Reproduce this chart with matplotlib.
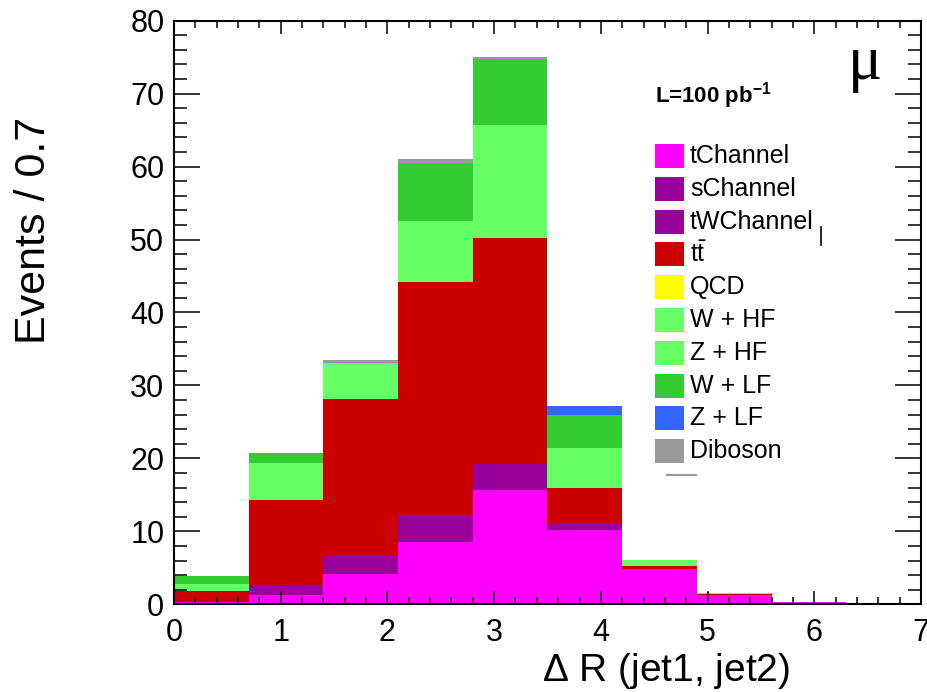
import numpy as np
import matplotlib
matplotlib.use("Agg")
import matplotlib.pyplot as plt
from matplotlib.patches import Rectangle
from matplotlib.lines import Line2D
from matplotlib.ticker import MultipleLocator

plt.rcParams['font.family'] = ['Liberation Sans', 'DejaVu Sans']
plt.rcParams['mathtext.fontset'] = 'custom'
plt.rcParams['mathtext.rm'] = 'Liberation Sans'
plt.rcParams['mathtext.it'] = 'Liberation Sans:italic'
plt.rcParams['mathtext.bf'] = 'Liberation Sans:bold'

"""INPUT DATA"""
bin_edges = np.round(np.arange(0, 7.01, 0.7), 2)  # delta R bins, width 0.7

# events per bin, stacked from bottom to top
t_channel  = [0.3, 1.3, 4.1, 8.6, 15.7, 10.2, 4.8, 1.3, 0.35, 0.2]
s_channel  = [0.05, 0.5, 1.0, 1.4, 1.4, 0.3, 0.0, 0.0, 0.0, 0.0]
tw_channel = [0.05, 0.7, 1.5, 2.1, 2.2, 0.5, 0.05, 0.0, 0.0, 0.0]
ttbar      = [1.4, 11.8, 21.5, 32.1, 30.9, 5.0, 0.45, 0.15, 0.0, 0.0]
qcd        = [0.0, 0.0, 0.0, 0.0, 0.0, 0.0, 0.0, 0.0, 0.0, 0.0]
w_hf       = [0.8, 4.3, 4.2, 7.0, 13.0, 4.5, 0.7, 0.1, 0.0, 0.0]
z_hf       = [0.2, 0.8, 0.8, 1.4, 2.5, 0.9, 0.1, 0.05, 0.0, 0.0]
w_lf       = [1.1, 1.3, 0.0, 7.9, 9.1, 4.5, 0.0, 0.0, 0.0, 0.0]
z_lf       = [0.0, 0.0, 0.0, 0.0, 0.0, 1.3, 0.0, 0.0, 0.0, 0.0]
diboson    = [0.0, 0.05, 0.4, 0.5, 0.2, 0.0, 0.0, 0.0, 0.0, 0.0]

labels = ['tChannel', 'sChannel', 'tWChannel', r'$\mathrm{t\bar{t}}$', 'QCD',
          'W + HF', 'Z + HF', 'W + LF', 'Z + LF', 'Diboson']
series = [t_channel, s_channel, tw_channel, ttbar, qcd,
          w_hf, z_hf, w_lf, z_lf, diboson]
colors = ['#ff00ff', '#990099', '#990099', '#cc0000', '#ffff00',
          '#66ff66', '#66ff66', '#33cc33', '#3366ff', '#999999']

W, H = 928, 692
fig = plt.figure(figsize=(W / 100, H / 100), dpi=100, facecolor='w')
ax = fig.add_axes([174 / W, 1 - 604.3 / H, 747 / W, 583.6 / H])

# stacked histogram
bottom = np.zeros(len(bin_edges) - 1)
for vals, c in zip(series, colors):
    vals = np.array(vals)
    ax.bar(bin_edges[:-1], vals, width=0.7, bottom=bottom, align='edge',
           color=c, linewidth=0)
    bottom += vals

ax.set_xlim(0, 7)
ax.set_ylim(0, 80)
ax.xaxis.set_major_locator(MultipleLocator(1))
ax.xaxis.set_minor_locator(MultipleLocator(0.2))
ax.yaxis.set_major_locator(MultipleLocator(10))
ax.yaxis.set_minor_locator(MultipleLocator(2))
ax.tick_params(axis='both', which='both', direction='in', top=True, right=True,
               width=1.1, labelsize=22, colors='k')
ax.tick_params(axis='x', which='major', length=9.5, pad=10)
ax.tick_params(axis='x', which='minor', length=4.8)
ax.tick_params(axis='y', which='major', length=18.7, pad=7)
ax.tick_params(axis='y', which='minor', length=9.4)
for spine in ax.spines.values():
    spine.set_linewidth(1.5)

# axis titles (ROOT style: aligned to the end of the axis)
fig.text(790 / W, 1 - 671 / H, r'$\Delta$ R (jet1, jet2)', ha='right',
         va='center', fontsize=28)
fig.text(34 / W, 1 - 117 / H, 'Events / 0.7', rotation=90, ha='center',
         va='top', fontsize=31)

# labels inside the frame
fig.text(655 / W, 1 - 96 / H, r'L=100 pb$^{\mathbf{-1}}$', fontsize=16,
         fontweight='bold', ha='left', va='center')
fig.text(865 / W, 1 - 64 / H, '\u03bc', family='Liberation Serif',
         fontsize=46, ha='center', va='center')

# legend boxes
row0, step = 156, 32.8
for i, (lab, c) in enumerate(zip(labels, colors)):
    yc = row0 + i * step
    fig.add_artist(Rectangle((655 / W, 1 - (yc + 12) / H), 29 / W, 24 / H,
                             transform=fig.transFigure, facecolor=c,
                             edgecolor='none'))
    fig.text(690 / W, 1 - yc / H, lab, fontsize=18, ha='left', va='center')

# small stray marks of the original legend
fig.add_artist(Line2D([667 / W, 696 / W], [1 - 475 / H, 1 - 475 / H],
                      transform=fig.transFigure, color='#999999', lw=1.5))
fig.add_artist(Line2D([821 / W, 821 / W], [1 - 227 / H, 1 - 245 / H],
                      transform=fig.transFigure, color='k', lw=1.2))

fig.savefig('out.png', dpi=100, facecolor='w')
